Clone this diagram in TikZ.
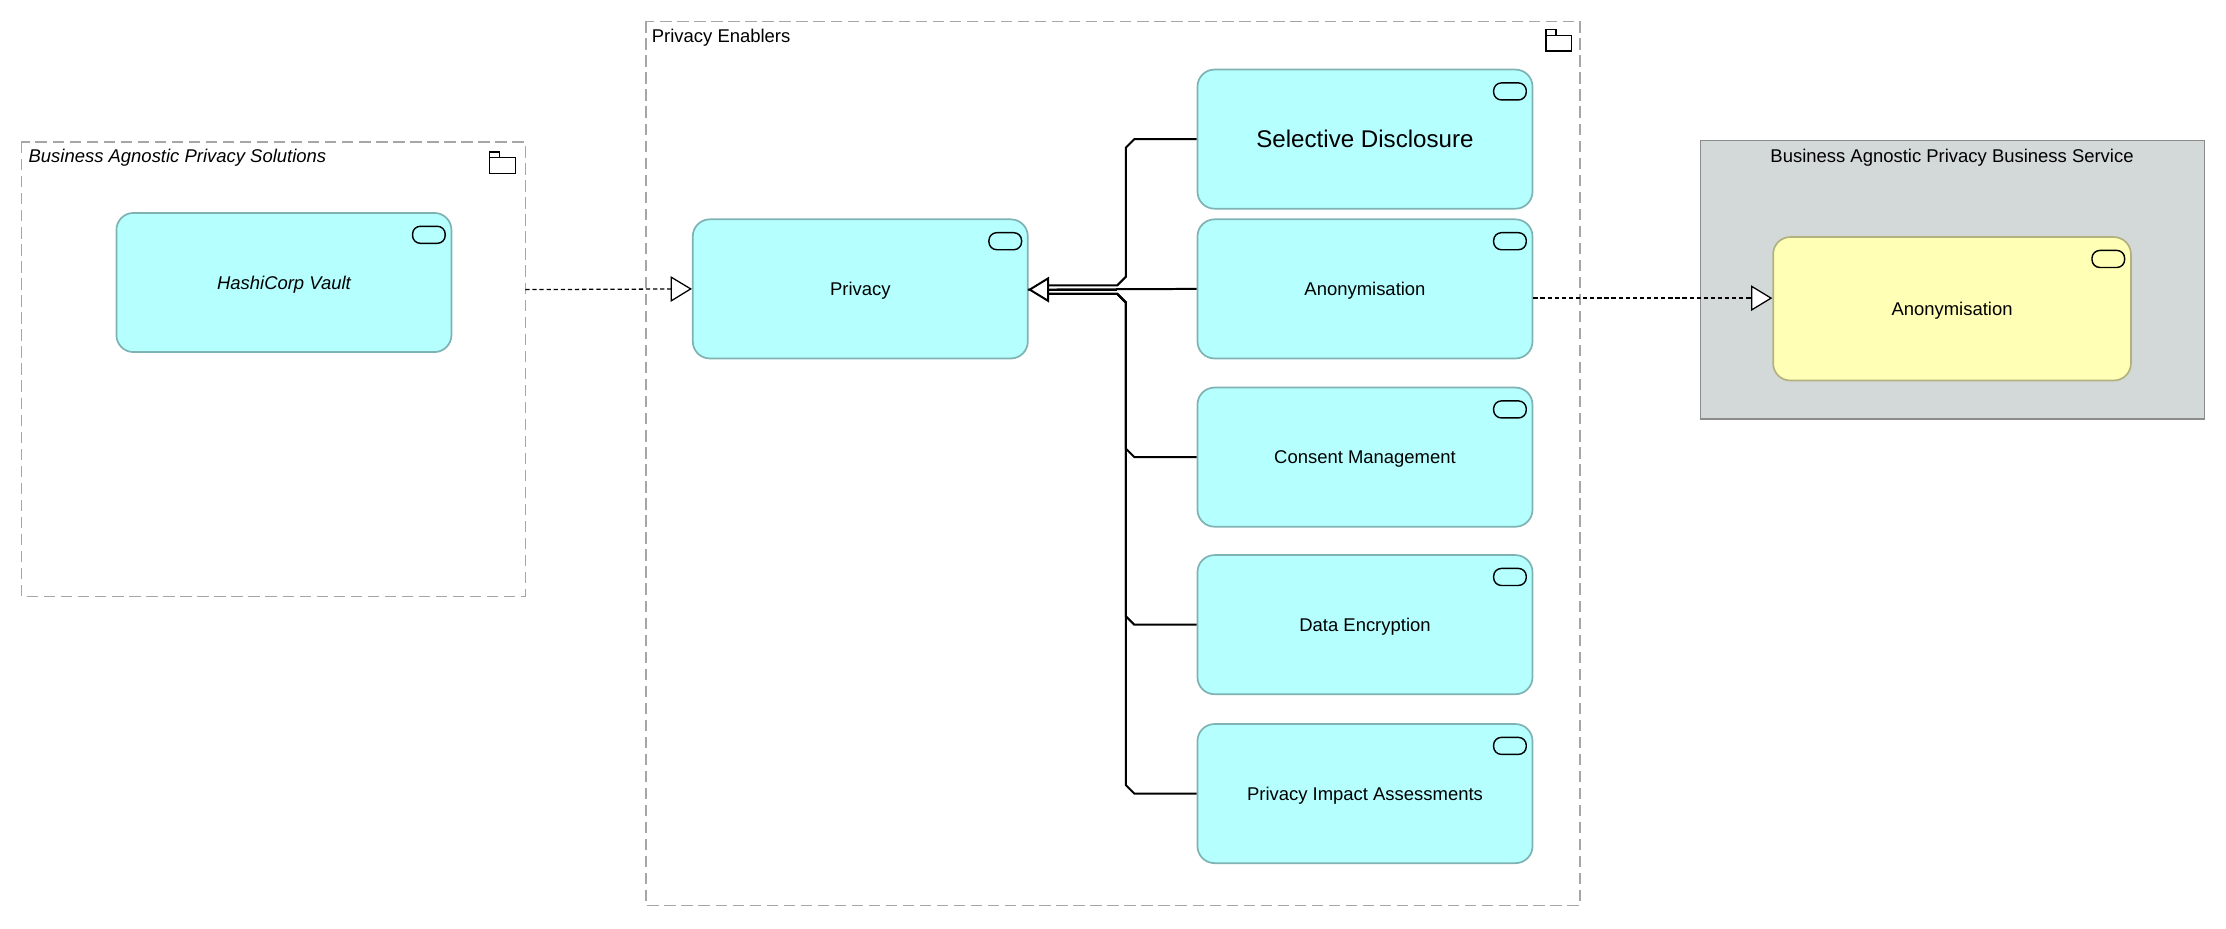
\documentclass[tikz,border=0pt]{standalone}
\usepackage{fontspec}
\setmainfont{Liberation Sans}
\usetikzlibrary{arrows.meta}
\definecolor{appfill}{HTML}{B5FFFF}
\definecolor{appdraw}{HTML}{7FB2B2}
\definecolor{bizfill}{HTML}{FFFFB5}
\definecolor{bizdraw}{HTML}{B2B27F}
\definecolor{grpfill}{HTML}{D3D8D8}
\begin{document}
\begin{tikzpicture}[x=1pt,y=-1pt,font=\fontsize{13}{15}\selectfont]
\tikzstyle{svc}=[rectangle,rounded corners=12pt,draw=appdraw,fill=appfill,line width=1.2pt,minimum width=236pt,minimum height=98pt,inner sep=0pt,text depth=-2pt]
\tikzstyle{biz}=[svc,draw=bizdraw,fill=bizfill,minimum width=252pt,minimum height=101pt]
\tikzstyle{grp}=[draw=black!35,dashed,line width=1pt,dash pattern=on 8pt off 4pt]
\tikzstyle{real}=[densely dashed,line width=0.9pt,-{Triangle[open,length=15pt,width=18pt,fill=white]}]
\tikzstyle{spec}=[line width=1.4pt]
\useasboundingbox (0,0) rectangle (1568,654);
% groups
\draw[grp] (15,100) rectangle (370,420);
\node[anchor=north west,inner sep=0pt,font=\fontsize{13}{15}\selectfont\itshape] (gsol) at (20,105) {Business Agnostic Privacy Solutions};
\draw[grp] (455,15) rectangle (1113,638);
\node[anchor=north west,inner sep=0pt] (genab) at (459,20) {Privacy Enablers};
\draw[draw=black!45,fill=grpfill,line width=1pt] (1198,99) rectangle (1553,295);
\node[inner sep=0pt] (gbiz) at (1375,111) {Business Agnostic Privacy Business Service};
% folder icons
\foreach \fx/\fy in {345/108,1089/22}{
  \draw[line width=0.9pt] (\fx,\fy+3) rectangle ++(18,11);
  \draw[line width=0.9pt] (\fx,\fy+3) -- ++(0,-4) -- ++(7,0) -- ++(0,4);
}
% elements
\node[svc,font=\fontsize{13}{15}\selectfont\itshape] (vault) at (200,199) {HashiCorp Vault};
\node[svc] (privacy) at (606,203.5) {Privacy};
\node[svc,font=\fontsize{17}{20}\selectfont] (seldis) at (961.5,98) {Selective Disclosure};
\node[svc] (anon) at (961.5,203.5) {Anonymisation};
\node[svc] (consent) at (961.5,322) {Consent Management};
\node[svc] (dataenc) at (961.5,440) {Data Encryption};
\node[svc] (pia) at (961.5,559) {Privacy Impact Assessments};
\node[biz] (anonbiz) at (1375,217.5) {Anonymisation};
% service icons
\foreach \n in {vault,privacy,seldis,anon,consent,dataenc,pia,anonbiz}
  \draw[line width=1pt,rounded corners=5.5pt] ([xshift=-28pt,yshift=-10pt]\n.north east) rectangle ++(23,12);
% relations
\coordinate (gsolr) at (370,204);
\draw[real] (gsolr) -- (privacy.west);
\draw[real] (anon.east |- 0,210) -- (anonbiz.west |- 0,210);
\coordinate (tip) at (724,204);
\draw[spec] (anon.west) -- (tip);
\draw[spec] (seldis.west) -- (799,98) -- (793,104) -- (793,195) -- (787,201) -- (730,201);
\foreach \n/\y in {consent/322,dataenc/440,pia/559}
  \draw[spec] (\n.west) -- (799,\y) -- (793,\y-6) -- (793,213) -- (787,207) -- (730,207);
\draw[spec,-{Triangle[open,length=15pt,width=18pt,fill=white]}] (787,204) -- (tip);
\end{tikzpicture}
\end{document}
